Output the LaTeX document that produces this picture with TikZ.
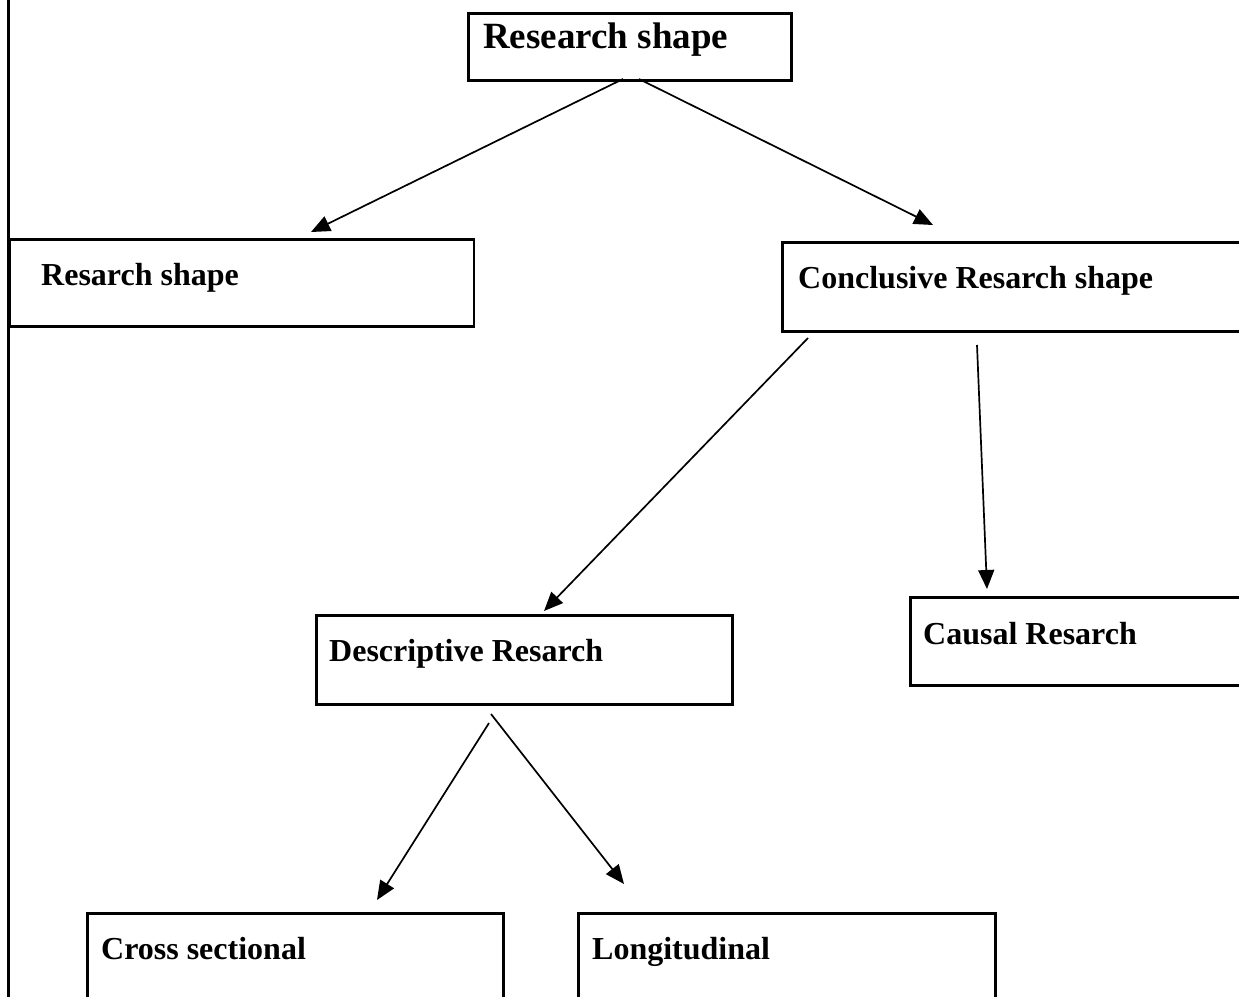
\documentclass[tikz,border=0pt]{standalone}
\usepackage{fontspec}
\setmainfont{Liberation Serif}
\usetikzlibrary{arrows.meta}
\begin{document}
\begin{tikzpicture}[x=1pt,y=-1pt,
  box/.style={draw=black,line width=2.6pt,inner sep=0pt,anchor=north west},
  lbl/.style={anchor=base west,inner sep=0pt,font=\bfseries\fontsize{32}{38}\selectfont},
  toplbl/.style={anchor=base west,inner sep=0pt,font=\bfseries\fontsize{37}{44}\selectfont},
  conn/.style={line width=1.7pt,-{Triangle[length=19pt,width=16pt]}}]
\useasboundingbox (0,0) rectangle (1239,996);
\clip (0,0) rectangle (1239,996);
% left margin line
\coordinate (mt) at (8.5,-5);
\coordinate (mb) at (8.5,1005);
\draw[line width=2.4pt] (mt) -- (mb);
% boxes
\node[box,minimum width=323pt,minimum height=67pt] (top) at (467,12) {};
\node[toplbl] (toptext) at (483,48) {Research shape};
\node[box,minimum width=464pt,minimum height=87pt] (rs) at (8.5,238) {};
\node[lbl] (rstext) at (41,285) {Resarch shape};
\node[box,minimum width=480pt,minimum height=89pt] (cr) at (781,241) {};
\node[lbl] (crtext) at (798,288) {Conclusive Resarch shape};
\node[box,minimum width=416pt,minimum height=89pt] (dr) at (315,614) {};
\node[lbl] (drtext) at (329,661) {Descriptive Resarch};
\node[box,minimum width=350pt,minimum height=88pt] (ca) at (909,596) {};
\node[lbl] (catext) at (923,644) {Causal Resarch};
\node[box,minimum width=416pt,minimum height=110pt] (cs) at (86,912) {};
\node[lbl] (cstext) at (101,959) {Cross sectional};
\node[box,minimum width=417pt,minimum height=110pt] (lo) at (577,912) {};
\node[lbl] (lotext) at (592,959) {Longitudinal};
% connector ends
\coordinate (s1) at (623,79);
\coordinate (e1) at (311,232);
\coordinate (s2) at (639,79);
\coordinate (e2) at (933,225);
\coordinate (s3) at (808,338);
\coordinate (e3) at (544,611);
\coordinate (s4) at (977,345);
\coordinate (e4) at (987,589);
\coordinate (s5) at (489,723);
\coordinate (e5) at (377,900);
\coordinate (s6) at (491,714);
\coordinate (e6) at (624,884);
\draw[conn] (s1) -- (e1);
\draw[conn] (s2) -- (e2);
\draw[conn] (s3) -- (e3);
\draw[conn] (s4) -- (e4);
\draw[conn] (s5) -- (e5);
\draw[conn] (s6) -- (e6);
\end{tikzpicture}
\end{document}
